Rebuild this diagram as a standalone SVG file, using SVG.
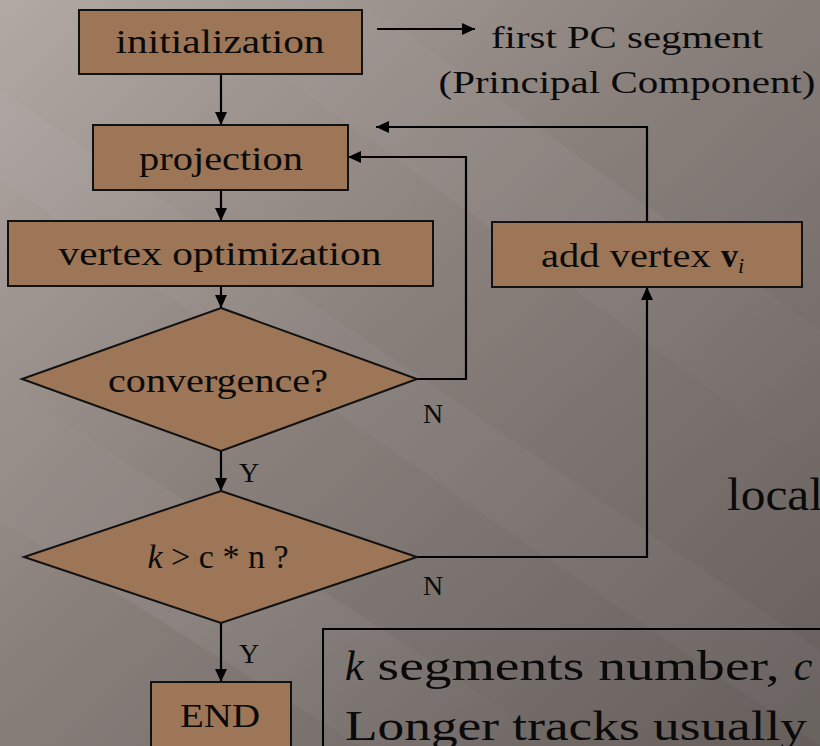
<svg xmlns="http://www.w3.org/2000/svg" width="820" height="746" viewBox="0 0 820 746">
<defs>
<linearGradient id="bg" x1="0" y1="0" x2="1" y2="1">
<stop offset="0" stop-color="#b2a9a5"/>
<stop offset="0.45" stop-color="#89807c"/>
<stop offset="1" stop-color="#655e5b"/>
</linearGradient>
<linearGradient id="band" x1="0" y1="0" x2="1" y2="1">
<stop offset="0" stop-color="#ffffff" stop-opacity="0"/>
<stop offset="0.5" stop-color="#ffffff" stop-opacity="0.06"/>
<stop offset="1" stop-color="#ffffff" stop-opacity="0"/>
</linearGradient>
<marker id="ah" markerUnits="userSpaceOnUse" markerWidth="14" markerHeight="14" refX="13" refY="7" orient="auto" viewBox="0 0 14 14">
<path d="M0,1 L13,7 L0,13 z" fill="#000"/>
</marker>
<style>
.box{fill:#9c7656;stroke:#111;stroke-width:2}
.t{font-family:"Liberation Serif","DejaVu Serif",serif;fill:#0a0a0a}
.c{fill:none;stroke:#000;stroke-width:2.2}
.lbl{font-family:"Liberation Serif","DejaVu Serif",serif;fill:#0a0a0a;font-size:28px}
</style>
</defs>
<rect width="820" height="746" fill="url(#bg)"/>
<polygon points="0,380 0,520 360,746 560,746" fill="url(#band)"/>
<polygon points="180,0 360,0 820,330 820,470" fill="url(#band)" opacity="0.7"/>
<polygon points="0,90 0,180 820,746 820,650" fill="#ffffff" opacity="0.03"/>

<g id="connectors">
<path class="c" d="M221,74 L221,125" marker-end="url(#ah)"/>
<path class="c" d="M221,190 L221,221" marker-end="url(#ah)"/>
<path class="c" d="M221,286 L221,308" marker-end="url(#ah)"/>
<path class="c" d="M221,451 L221,491" marker-end="url(#ah)"/>
<path class="c" d="M221,623 L221,682" marker-end="url(#ah)"/>
<path class="c" d="M417,379 L466,379 L466,157 L348,157" marker-end="url(#ah)"/>
<path class="c" d="M417,557 L647,557 L647,287" marker-end="url(#ah)"/>
<path class="c" d="M647,222 L647,127 L376,127" marker-end="url(#ah)"/>
<path class="c" d="M377,29 L475,29" marker-end="url(#ah)"/>
<text class="lbl" x="423" y="423">N</text>
<text class="lbl" x="423" y="595">N</text>
<text class="lbl" x="239" y="482">Y</text>
<text class="lbl" x="239" y="663">Y</text>
</g>

<g id="initialization">
<rect class="box" x="79" y="10" width="283" height="64"/>
<text class="t" x="220" y="53" font-size="34" text-anchor="middle" textLength="209" lengthAdjust="spacingAndGlyphs">initialization</text>
</g>
<g id="first-pc">
<text class="t" x="627" y="48" font-size="32" text-anchor="middle" textLength="272" lengthAdjust="spacingAndGlyphs">first PC segment</text>
<text class="t" x="627" y="93" font-size="32" text-anchor="middle" textLength="377" lengthAdjust="spacingAndGlyphs">(Principal Component)</text>
</g>
<g id="projection">
<rect class="box" x="93" y="125" width="255" height="65"/>
<text class="t" x="221" y="170" font-size="34" text-anchor="middle" textLength="164" lengthAdjust="spacingAndGlyphs">projection</text>
</g>
<g id="vertex-optimization">
<rect class="box" x="8" y="221" width="425" height="65"/>
<text class="t" x="220" y="265" font-size="34" text-anchor="middle" textLength="323" lengthAdjust="spacingAndGlyphs">vertex optimization</text>
</g>
<g id="add-vertex">
<rect class="box" x="492" y="222" width="310" height="65"/>
<text class="t" x="541" y="267" font-size="34"><tspan textLength="180" lengthAdjust="spacingAndGlyphs">add vertex </tspan><tspan font-weight="bold">v</tspan><tspan font-style="italic" font-size="22" dy="6">i</tspan></text>
</g>
<g id="convergence">
<polygon class="box" points="221,308 417,379 221,451 22,379"/>
<text class="t" x="218" y="392" font-size="34" text-anchor="middle" textLength="220" lengthAdjust="spacingAndGlyphs">convergence?</text>
</g>
<g id="k-check">
<polygon class="box" points="221,491 417,557 221,623 24,557"/>
<text class="t" x="218" y="568" font-size="34" text-anchor="middle"><tspan font-style="italic">k</tspan> &gt; c * n ?</text>
</g>
<g id="end">
<rect class="box" x="151" y="682" width="140" height="80"/>
<text class="t" x="220" y="727" font-size="34" text-anchor="middle" textLength="80" lengthAdjust="spacingAndGlyphs">END</text>
</g>
<g id="local-text">
<text class="t" x="727" y="510" font-size="46" textLength="96" lengthAdjust="spacingAndGlyphs">local</text>
</g>
<g id="note">
<rect x="323" y="629" width="540" height="140" fill="none" stroke="#000" stroke-width="2"/>
<text class="t" x="345" y="680" font-size="42"><tspan font-style="italic">k</tspan><tspan textLength="430" lengthAdjust="spacingAndGlyphs"> segments number, </tspan><tspan font-style="italic">c</tspan></text>
<text class="t" x="345" y="740" font-size="42"><tspan textLength="462" lengthAdjust="spacingAndGlyphs">Longer tracks usually</tspan></text>
</g>
</svg>
